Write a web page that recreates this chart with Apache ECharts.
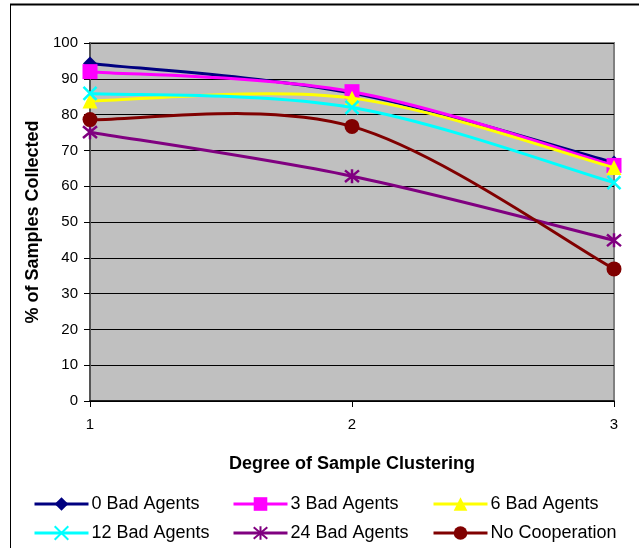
<!DOCTYPE html>
<html>
<head>
<meta charset="utf-8">
<script src="https://cdn.jsdelivr.net/npm/echarts@6/dist/echarts.min.js"></script>
<style>
  html, body { margin: 0; padding: 0; background: #fff; }
  #chart { width: 639px; height: 548px; }
</style>
</head>
<body>
<div id="chart"></div>
<script>
// Degree of sample clustering (x) and percentage collected per team setup
const clustering = [1, 2, 3];
const yTicks = [0, 10, 20, 30, 40, 50, 60, 70, 80, 90, 100];

const seriesNames = ['0 Bad Agents', '3 Bad Agents', '6 Bad Agents',
                     '12 Bad Agents', '24 Bad Agents', 'No Cooperation'];

const badAgents0  = [94.3, 86.0, 66.6];
const badAgents3  = [92.0, 86.4, 65.8];
const badAgents6  = [83.8, 84.6, 65.2];
const badAgents12 = [85.9, 82.0, 61.0];
const badAgents24 = [75.1, 62.8, 44.9];
const noCooperation = [78.6, 76.7, 36.9];

const values = [badAgents0, badAgents3, badAgents6, badAgents12, badAgents24, noCooperation];

// Marker and line styling per series
const styles = [
  { color: '#000080', symbol: 'diamond', size: 14 },
  { color: '#FF00FF', symbol: 'rect', size: 15 },
  { color: '#FFFF00', symbol: 'triangle', size: 15 },
  { color: '#00FFFF', symbol: 'path://M0,0 L10,10 M10,0 L0,10', size: 13, stroke: true },
  { color: '#800080', symbol: 'path://M0,0 L10,10 M10,0 L0,10 M5,-1 L5,11', size: 14, stroke: true },
  { color: '#800000', symbol: 'circle', size: 15 }
];

const FONT = '"Liberation Sans", Arial, sans-serif';
const LINE_WIDTH = 3;

// Smoothed curve through the projected points (cubic Bezier, 1/6 tangent rule)
function smoothPath(pts) {
  if (pts.length < 2) return '';
  let d = 'M' + pts[0][0] + ',' + pts[0][1];
  for (let i = 0; i < pts.length - 1; i++) {
    const p0 = pts[Math.max(i - 1, 0)];
    const p1 = pts[i];
    const p2 = pts[i + 1];
    const p3 = pts[Math.min(i + 2, pts.length - 1)];
    const c1x = p1[0] + (p2[0] - p0[0]) / 6;
    const c1y = p1[1] + (p2[1] - p0[1]) / 6;
    const c2x = p2[0] - (p3[0] - p1[0]) / 6;
    const c2y = p2[1] - (p3[1] - p1[1]) / 6;
    d += ' C' + c1x + ',' + c1y + ' ' + c2x + ',' + c2y + ' ' + p2[0] + ',' + p2[1];
  }
  return d;
}

const markerSeries = [];
const curveSeries = [];
seriesNames.forEach((name, i) => {
  const s = styles[i];
  const data = clustering.map((x, j) => [x, values[i][j]]);
  // markers (listed first so the legend takes its icon from them)
  markerSeries.push({
    name: name,
    type: 'line',
    data: data,
    symbol: s.symbol,
    symbolSize: s.size,
    showAllSymbol: true,
    lineStyle: { color: s.color, width: LINE_WIDTH, opacity: 0 },
    itemStyle: s.stroke
      ? { color: s.color, borderColor: s.color, borderWidth: 2.5 }
      : { color: s.color, borderWidth: 0 },
    emphasis: { disabled: true },
    z: 3 + i * 2
  });
  // smoothed curve
  curveSeries.push({
    name: name,
    type: 'custom',
    coordinateSystem: 'cartesian2d',
    data: data,
    encode: { x: 0, y: 1 },
    itemStyle: { color: s.color },
    clip: true,
    silent: true,
    z: 2 + i * 2,
    renderItem: function (params, api) {
      if (params.dataIndex !== 0) return null;
      const pts = data.map(d => api.coord(d));
      return {
        type: 'path',
        shape: { pathData: smoothPath(pts) },
        style: { fill: 'none', stroke: s.color, lineWidth: LINE_WIDTH, lineJoin: 'round' }
      };
    }
  });
});

// Legend laid out as three columns of two rows
function legendColumn(left, idx) {
  return {
    orient: 'vertical',
    left: left,
    top: 495,
    padding: 0,
    itemWidth: 54,
    itemHeight: 17,
    itemGap: 11,
    textStyle: { fontFamily: FONT, fontSize: 18, lineHeight: 18, color: '#000', padding: [0, 0, 0, -2] },
    data: idx.map(k => ({
      name: seriesNames[k],
      lineStyle: { color: styles[k].color, width: LINE_WIDTH, opacity: 1 }
    }))
  };
}

const chart = echarts.init(document.getElementById('chart'), null, { renderer: 'canvas' });

chart.setOption({
  animation: false,
  backgroundColor: '#fff',
  textStyle: { fontFamily: FONT },
  grid: {
    left: 90, right: 25, top: 43, bottom: 147,
    show: true,
    backgroundColor: '#C0C0C0',
    borderColor: '#808080',
    borderWidth: 2
  },
  xAxis: {
    type: 'value',
    min: clustering[0],
    max: clustering[clustering.length - 1],
    interval: 1,
    name: 'Degree of Sample Clustering',
    nameLocation: 'middle',
    nameGap: 54,
    nameTextStyle: { fontFamily: FONT, fontSize: 18, fontWeight: 'bold', color: '#000' },
    axisLine: { show: true, onZero: false, lineStyle: { color: '#000', width: 1.5 } },
    axisTick: { show: true, length: 6, lineStyle: { color: '#000', width: 1 } },
    axisLabel: { fontFamily: FONT, fontSize: 15, color: '#000', margin: 16 },
    splitLine: { show: false }
  },
  yAxis: {
    type: 'value',
    min: yTicks[0],
    max: yTicks[yTicks.length - 1],
    interval: yTicks[1] - yTicks[0],
    name: '% of Samples Collected',
    nameLocation: 'middle',
    nameGap: 48,
    nameRotate: 90,
    nameTextStyle: { fontFamily: FONT, fontSize: 18, fontWeight: 'bold', color: '#000' },
    axisLine: { show: true, onZero: false, lineStyle: { color: '#555', width: 2 } },
    axisTick: { show: true, length: 6, lineStyle: { color: '#000', width: 1 } },
    axisLabel: { fontFamily: FONT, fontSize: 15, color: '#000', margin: 12 },
    splitLine: { show: true, lineStyle: { color: '#000', width: 1 } }
  },
  legend: [
    legendColumn(33, [0, 3]),
    legendColumn(232, [1, 4]),
    legendColumn(432, [2, 5])
  ],
  graphic: [
    { type: 'line', shape: { x1: 10, y1: 4.5, x2: 639, y2: 4.5 }, style: { stroke: '#000', lineWidth: 2 }, silent: true },
    { type: 'line', shape: { x1: 10.5, y1: 4, x2: 10.5, y2: 548 }, style: { stroke: '#000', lineWidth: 1 }, silent: true }
  ],
  series: markerSeries.concat(curveSeries)
});
</script>
</body>
</html>
